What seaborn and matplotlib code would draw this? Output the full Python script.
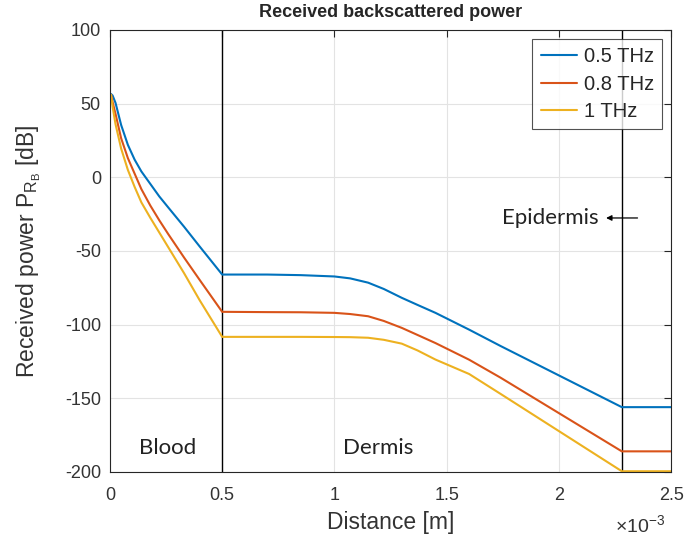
import pandas as pd
import seaborn as sns
import matplotlib.pyplot as plt
from matplotlib.ticker import FuncFormatter

# distance samples in units of 1e-3 m
distance = [0.005, 0.012, 0.025, 0.05, 0.08, 0.11, 0.14, 0.18, 0.22, 0.26, 0.33, 0.40,
            0.5, 0.7, 0.85, 1.0, 1.07, 1.15, 1.22, 1.3, 1.37, 1.45, 1.6, 1.74, 2.28, 2.5]

power_05 = [56.5, 55.5, 50.5, 35.5, 22, 12, 4, -4.5, -13, -20.5, -33.5, -47,
            -66, -66, -66.4, -67.3, -68.6, -71.5, -75.8, -81.8, -86.6, -92, -103.4, -114.5,
            -156, -156]
power_08 = [56, 51, 43, 26.5, 13, 2.5, -8, -19.2, -29.2, -38.6, -54.4, -69.7,
            -91.3, -91.5, -91.6, -92, -92.8, -94.3, -97.5, -102.2, -107, -112.5, -123.8, -136,
            -186, -186]
power_10 = [56, 48, 36, 19.5, 5, -6.5, -17, -27.5, -37.5, -47.5, -65, -83.5,
            -108.3, -108.3, -108.3, -108.4, -108.5, -108.9, -110.3, -112.9, -117.5, -123.7,
            -133.5, -147, -199.5, -199.5]

labels = ['0.5 THz', '0.8 THz', '1 THz']
colors = ['#0072BD', '#D95319', '#EDB120']
boundaries = [0.5, 2.28]


def build_frame():
    rows = []
    for lab, vals in zip(labels, [power_05, power_08, power_10]):
        for d, p in zip(distance, vals):
            rows.append({'distance': d * 1e-3, 'power': p, 'freq': lab})
    return pd.DataFrame(rows)


def main():
    df = build_frame()

    sns.set_theme(style='white')
    plt.rcParams['font.family'] = ['Liberation Sans', 'DejaVu Sans']
    plt.rcParams['axes.unicode_minus'] = False
    plt.rcParams['mathtext.fontset'] = 'custom'
    plt.rcParams['mathtext.rm'] = 'Liberation Sans'
    plt.rcParams['mathtext.it'] = 'Liberation Sans'

    fig = plt.figure(figsize=(6.87, 5.44), dpi=100)
    ax = fig.add_axes([0.160, 0.1324, 0.817, 0.8125])

    sns.lineplot(data=df, x='distance', y='power', hue='freq', hue_order=labels,
                 palette=colors, linewidth=1.5, ax=ax, sort=False)

    for b in boundaries:
        ax.axvline(b * 1e-3, color='black', linewidth=1.0, zorder=1)

    ax.set_xlim(0, 2.5e-3)
    ax.set_ylim(-200, 100)
    ax.set_xticks([i * 0.5e-3 for i in range(6)])
    ax.set_yticks(range(-200, 101, 50))
    ax.xaxis.set_major_formatter(FuncFormatter(lambda v, p: '%g' % round(v * 1e3, 3)))
    ax.text(0.989, -0.12, '$\\times10^{-3}$', transform=ax.transAxes, ha='right',
            va='center', fontsize=14, color='#333333')

    ax.grid(True, color='#e3e3e3', linewidth=0.8)
    ax.set_axisbelow(True)
    for s in ax.spines.values():
        s.set_color('#262626')
        s.set_linewidth(0.8)
    ax.tick_params(direction='in', top=True, right=True, length=5, width=0.8,
                   labelsize=13, colors='#262626', labelcolor='#333333')
    ax.tick_params(axis='x', pad=11)
    ax.tick_params(axis='y', pad=6.5)

    ax.set_title('Received backscattered power', fontsize=13, fontweight='bold', pad=9)
    ax.set_xlabel('Distance [m]', fontsize=16.5, color='#333333', labelpad=5)
    ax.set_ylabel('Received power P$_{R_B}$ [dB]', fontsize=16.5, color='#333333',
                  labelpad=16)

    region_font = ['Lato', 'DejaVu Sans']
    ax.text(0.256e-3, -184, 'Blood', fontsize=16, family=region_font,
            ha='center', va='center', color='#222222')
    ax.text(1.195e-3, -184, 'Dermis', fontsize=16, family=region_font,
            ha='center', va='center', color='#222222')
    ax.text(1.96e-3, -27.6, 'Epidermis', fontsize=16, family=region_font,
            ha='center', va='center', color='#222222')
    ax.annotate('', xy=(2.21e-3, -27.6), xytext=(2.35e-3, -27.6),
                arrowprops=dict(arrowstyle='-|>', color='black', lw=0.9,
                                mutation_scale=8, shrinkA=0, shrinkB=0))

    leg = ax.legend(loc='upper right', fontsize=14.5, frameon=True, fancybox=False,
                    handlelength=1.8, handletextpad=0.35, borderaxespad=0.45,
                    labelspacing=0.42, borderpad=0.4)
    leg.get_frame().set_edgecolor('#262626')
    leg.get_frame().set_linewidth(0.8)

    fig.savefig('out.png', dpi=100)
    plt.close(fig)


if __name__ == "__main__":
    main()
